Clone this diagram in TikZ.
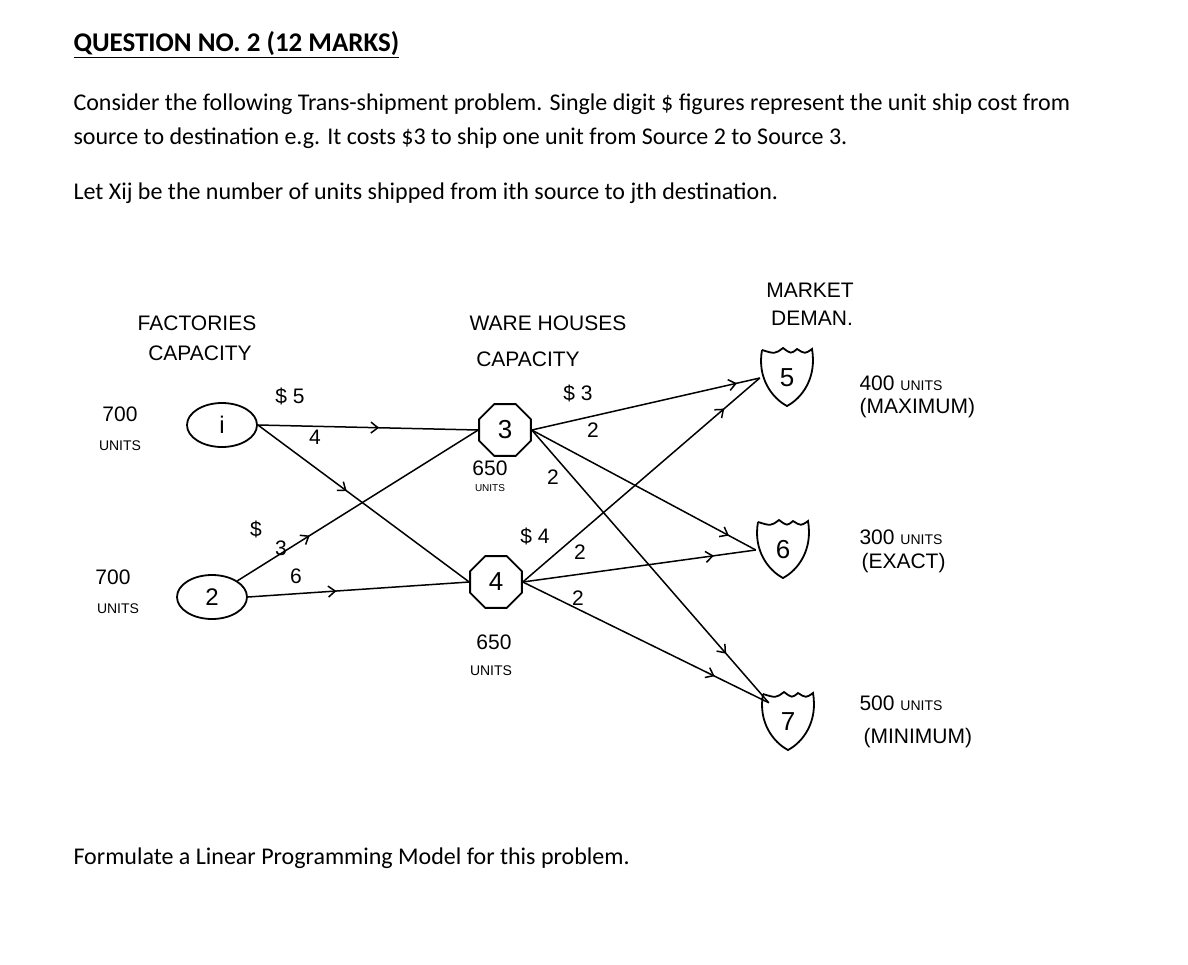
\documentclass[tikz,border=0pt]{standalone}
\usepackage{fontspec}
\setmainfont{Carlito}
\newfontfamily\hand{Liberation Sans}
\usetikzlibrary{shapes.geometric,decorations.markings,calc,arrows.meta}
\begin{document}
\begin{tikzpicture}[x=1pt,y=-1pt,
  hw/.style={font=\hand\fontsize{21}{21}\selectfont},
  hws/.style={font=\hand\fontsize{14}{14}\selectfont},
  fac/.style={ellipse,draw,line width=1.8pt,minimum width=70pt,minimum height=44pt,font=\hand\fontsize{24}{24}\selectfont},
  wh/.style={regular polygon,regular polygon sides=8,draw,line width=1.8pt,minimum size=56pt,inner sep=0pt,font=\hand\fontsize{26}{26}\selectfont},
  mk/.style={circle,minimum size=54pt,inner sep=0pt,font=\hand\fontsize{26}{26}\selectfont},
  edge/.style={line width=1.5pt},
  marr/.style={edge,postaction={decorate},decoration={markings,mark=at position #1 with {\arrow[line width=1.5pt]{Straight Barb[length=7pt,width=11pt]}}}}]
\useasboundingbox (0,0) rectangle (1188,964);
\fill[white] (0,0) rectangle (1188,964);
% printed text
\node[anchor=west,font=\fontsize{27}{27}\selectfont\bfseries] (title) at (70,45) {\underline{QUESTION NO. 2 (12 MARKS)}};
\node[anchor=west,font=\fontsize{24}{24}\selectfont] (p1) at (70,104) {Consider the following Trans-shipment problem. Single digit \$ figures represent the unit ship cost from};
\node[anchor=west,font=\fontsize{24}{24}\selectfont] (p2) at (70,138) {source to destination e.g. It costs \$3 to ship one unit from Source 2 to Source 3.};
\node[anchor=west,font=\fontsize{24}{24}\selectfont] (p3) at (70,193) {Let Xij be the number of units shipped from ith source to jth destination.};
\node[anchor=west,font=\fontsize{24}{24}\selectfont] (p4) at (70,858) {Formulate a Linear Programming Model for this problem.};
% nodes
\node[fac] (n1) at (222,425) {i};
\node[fac] (n2) at (212,597) {2};
\node[wh] (n3) at (505,430) {3};
\node[wh] (n4) at (496,582) {4};
\node[mk] (n5) at (787,378) {5};
\node[mk] (n6) at (783,550) {6};
\node[mk] (n7) at (788,722) {7};
\foreach \n in {n5,n6,n7}{
  \draw[line width=1.8pt] ($(\n.center)+(-25,-28)$) .. controls ($(\n.center)+(-12,-24)$) .. ($(\n.center)+(-4,-30)$)
   .. controls ($(\n.center)+(4,-24)$) .. ($(\n.center)+(10,-29)$)
   .. controls ($(\n.center)+(18,-24)$) .. ($(\n.center)+(25,-29)$)
   .. controls ($(\n.center)+(30,0)$) and ($(\n.center)+(15,20)$) .. ($(\n.center)+(0,28)$)
   .. controls ($(\n.center)+(-15,20)$) and ($(\n.center)+(-30,0)$) .. ($(\n.center)+(-25,-28)$);
}
% edges
\draw[marr=0.55] (n1.east) -- (n3.west);
\draw[marr=0.42] (n1.east) -- (n4.west);
\draw[marr=0.3] (n2.north east) -- (n3.west);
\draw[marr=0.4] (n2.east) -- (n4.west);
\draw[marr=0.9] (n3.east) -- (n5.west);
\draw[marr=0.88] (n3.east) -- (n6.west);
\draw[marr=0.82] (n3.east) -- (n7.north west);
\draw[marr=0.85] (n4.east) -- (n5.west);
\draw[marr=0.82] (n4.east) -- (n6.west);
\draw[marr=0.78] (n4.east) -- (n7.north west);
% labels
\node[hw] (t1) at (197,323) {FACTORIES};
\node[hw] (t2) at (200,353) {CAPACITY};
\node[hw] (t3) at (120,414) {700};
\node[hws] (t4) at (120,446) {UNITS};
\node[hw] (t5) at (113,577) {700};
\node[hws] (t6) at (118,609) {UNITS};
\node[hw] (t7) at (548,323) {WARE HOUSES};
\node[hw] (t8) at (528,359) {CAPACITY};
\node[hw] (t9) at (578,393) {\$ 3};
\node[hw] (t10) at (593,430) {2};
\node[hw] (t11) at (490,468) {650};
\node[hws,font=\hand\fontsize{10}{10}\selectfont] (t12) at (490,488) {UNITS};
\node[hw] (t13) at (553,477) {2};
\node[hw] (t14) at (535,536) {\$ 4};
\node[hw] (t15) at (580,552) {2};
\node[hw] (t16) at (578,598) {2};
\node[hw] (t17) at (494,642) {650};
\node[hws] (t18) at (491,671) {UNITS};
\node[hw] (t19) at (290,396) {\$ 5};
\node[hw] (t20) at (315,437) {4};
\node[hw] (t21) at (256,529) {\$};
\node[hw] (t22) at (281,548) {3};
\node[hw] (t23) at (296,576) {6};
\node[hw] (t24) at (810,290) {MARKET};
\node[hw] (t25) at (812,318) {DEMAN.};
\node[hw,anchor=west] (t26) at (856,383) {400 {\fontsize{14}{14}\selectfont UNITS}};
\node[hw,anchor=west] (t27) at (856,408) {(MAXIMUM)};
\node[hw,anchor=west] (t28) at (856,537) {300 {\fontsize{14}{14}\selectfont UNITS}};
\node[hw,anchor=west] (t29) at (858,563) {(EXACT)};
\node[hw,anchor=west] (t30) at (856,703) {500 {\fontsize{14}{14}\selectfont UNITS}};
\node[hw,anchor=west] (t31) at (860,738) {(MINIMUM)};
\end{tikzpicture}
\end{document}
